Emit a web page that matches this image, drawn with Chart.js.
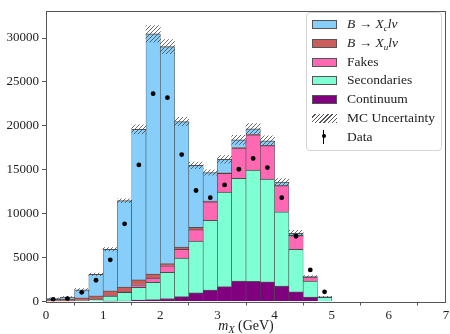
<!DOCTYPE html>
<html>
<head>
<meta charset="utf-8">
<script src="https://cdn.jsdelivr.net/npm/chart.js@4.4.1/dist/chart.umd.min.js"></script>
<style>
html, body { margin: 0; padding: 0; background: #fff; }
#wrap { position: relative; width: 450px; height: 334px; }
#xtitle { position: absolute; left: 196px; width: 100px; top: 318px; text-align: center;
  font: 14px 'Liberation Serif', serif; color: #222; line-height: 16px; }
#xtitle sub { font-size: 10px; vertical-align: -3px; line-height: 0; }
#legend { position: absolute; left: 306px; top: 12px; width: 134px; height: 137px;
  border: 1px solid #d4d4d4; border-radius: 4px; background: rgba(255,255,255,0.85);
  font: 13.5px 'Liberation Serif', serif; color: #222; }
#legend .row { position: absolute; left: 0; height: 18px; line-height: 18px; }
#legend .sw { position: absolute; left: 5px; top: 5px; width: 23px; height: 7px; border: 1px solid #555; }
#legend .txt { position: absolute; left: 40px; white-space: nowrap; }
#legend sub { font-size: 9px; vertical-align: -3px; line-height: 0; }
</style>
</head>
<body>
<div id="wrap">
  <canvas id="histChart" width="450" height="334"></canvas>
  <div id="xtitle"><i>m</i><sub><i>X</i></sub> (GeV)</div>
  <div id="legend"></div>
</div>
<script>
// bins of 0.25 GeV, centres
var binCenters = [0.125, 0.375, 0.625, 0.875, 1.125, 1.375, 1.625, 1.875, 2.125, 2.375,
                  2.625, 2.875, 3.125, 3.375, 3.625, 3.875, 4.125, 4.375, 4.625, 4.875];

var xcVals   = [100, 230, 900, 2450, 4730, 9830, 17140, 27350, 24700, 14290,
                7060, 3250, 1520, 870, 640, 520, 370, 200, 60, 30];
var xuVals   = [250, 250, 300, 370, 550, 560, 560, 450, 260, 260,
                260, 100, 80, 60, 50, 40, 30, 20, 10, 0];
var fakeVals = [0, 0, 20, 30, 50, 60, 300, 480, 740, 1000,
                1310, 2090, 2130, 3460, 4020, 3800, 2980, 1600, 450, 20];
var secVals  = [20, 30, 100, 250, 600, 1000, 1450, 1970, 2980, 4390,
                5890, 7950, 10750, 11700, 12650, 11690, 8470, 4840, 1820, 470];
var contVals = [0, 0, 0, 0, 10, 30, 150, 220, 340, 550,
                980, 1300, 1700, 2320, 2300, 2250, 1750, 1100, 500, 0];
var mcErr    = [50, 50, 140, 150, 190, 220, 530, 950, 800, 480,
                380, 300, 440, 520, 610, 560, 400, 350, 120, 80];
var dataVals = [250, 330, 1050, 2420, 4750, 8850, 15550, 23660, 23210, 16730,
                12640, 11820, 13270, 15060, 16290, 15250, 11820, 7430, 3600, 1100];

var xTicks = [0, 1, 2, 3, 4, 5, 6, 7];
var yTicks = [0, 5000, 10000, 15000, 20000, 25000, 30000];

var legendNames = [
  '<i>B</i> \u2192 <i>X<sub>c</sub>l\u03bd</i>',
  '<i>B</i> \u2192 <i>X<sub>u</sub>l\u03bd</i>',
  'Fakes',
  'Secondaries',
  'Continuum',
  'MC Uncertainty',
  'Data'
];

function pts(vals) {
  return vals.map(function(v, i) { return {x: binCenters[i], y: v}; });
}

function makeHatch() {
  var c = document.createElement('canvas');
  c.width = 4; c.height = 4;
  var g = c.getContext('2d');
  g.strokeStyle = 'rgba(70,70,70,0.8)';
  g.lineWidth = 1;
  g.beginPath();
  g.moveTo(0, 4); g.lineTo(4, 0);
  g.moveTo(-2, 2); g.lineTo(2, -2);
  g.moveTo(2, 6); g.lineTo(6, 2);
  g.stroke();
  return g.createPattern(c, 'repeat');
}

var hatch = makeHatch();
var totals = binCenters.map(function(_, i) {
  return xcVals[i] + xuVals[i] + fakeVals[i] + secVals[i] + contVals[i];
});
var uncBars = totals.map(function(t, i) {
  return {x: binCenters[i], y: [t - mcErr[i], t + mcErr[i]]};
});

var edge = 'rgba(50,50,50,0.85)';
function barSet(label, vals, color) {
  return {
    type: 'bar', label: label, data: pts(vals), stack: 'main',
    backgroundColor: color, borderColor: edge,
    borderWidth: { top: 1, bottom: 0, left: 0.6, right: 0.6 }, borderSkipped: false,
    barPercentage: 1, categoryPercentage: 1
  };
}

var framePlugin = {
  id: 'frame',
  afterDraw: function(chart) {
    var a = chart.chartArea, ctx = chart.ctx;
    ctx.save();
    ctx.strokeStyle = '#555';
    ctx.lineWidth = 1;
    ctx.strokeRect(Math.round(a.left) + 0.5, Math.round(a.top) + 0.5,
                   Math.round(a.right - a.left) - 1, Math.round(a.bottom - a.top));
    ctx.restore();
  }
};

var chart = new Chart(document.getElementById('histChart').getContext('2d'), {
  type: 'bar',
  data: {
    datasets: [
      {
        type: 'scatter', label: 'Data', data: pts(dataVals),
        backgroundColor: '#000', borderColor: '#000', pointRadius: 2.4, pointBorderWidth: 0
      },
      {
        type: 'bar', label: 'MC Uncertainty', data: uncBars, stack: 'unc', grouped: false,
        backgroundColor: hatch, borderWidth: 0, barPercentage: 1, categoryPercentage: 1
      },
      barSet('Continuum', contVals, '#800080'),
      barSet('Secondaries', secVals, '#7fffd4'),
      barSet('Fakes', fakeVals, '#ff69b4'),
      barSet('Xu', xuVals, '#cd5c5c'),
      barSet('Xc', xcVals, '#87cefa')
    ]
  },
  options: {
    responsive: false,
    animation: false,
    layout: { padding: { top: 5, right: 4, left: 0, bottom: 0 } },
    plugins: { legend: { display: false }, tooltip: { enabled: false } },
    scales: {
      x: {
        type: 'linear', min: 0, max: 7, offset: false, stacked: true,
        afterFit: function(s) { s.height = 32.5; s.paddingLeft = 0; s.paddingRight = 0; },
        afterBuildTicks: function(s) { s.ticks = xTicks.map(function(v) { return {value: v}; }); },
        grid: { display: true, drawOnChartArea: false, drawTicks: true, tickLength: 4, color: '#555' },
        border: { display: false },
        ticks: { font: { family: 'Liberation Serif', size: 13 }, color: '#222', padding: 2, maxRotation: 0 }
      },
      y: {
        min: 0, max: 33100, stacked: true,
        afterFit: function(s) { s.width = 46; },
        afterBuildTicks: function(s) { s.ticks = yTicks.map(function(v) { return {value: v}; }); },
        grid: { display: true, drawOnChartArea: false, drawTicks: true, tickLength: 4, color: '#555' },
        border: { display: false },
        ticks: { font: { family: 'Liberation Serif', size: 13 }, color: '#222', padding: 3,
                 callback: function(v) { return String(v); } }
      }
    }
  },
  plugins: [framePlugin]
});

// html legend (labels need italics/subscripts)
var legendFill = ['#87cefa', '#cd5c5c', '#ff69b4', '#7fffd4', '#800080'];
var box = document.getElementById('legend');
legendNames.forEach(function(name, i) {
  var row = document.createElement('div');
  row.className = 'row';
  row.style.top = (2 + i * 18.8) + 'px';
  row.style.width = '134px';
  var sw = document.createElement('div');
  if (i < 5) {
    sw.className = 'sw';
    sw.style.background = legendFill[i];
  } else if (i === 5) {
    sw.className = 'sw';
    sw.style.border = 'none';
    sw.style.height = '9px';
    sw.style.width = '25px';
    sw.style.background = 'repeating-linear-gradient(-45deg, #555 0 1px, #fff 1px 3px)';
  } else {
    sw.style.cssText = 'position:absolute;left:16px;top:2px;width:1px;height:14px;background:#000';
    var dot = document.createElement('div');
    dot.style.cssText = 'position:absolute;left:14.5px;top:6.5px;width:4px;height:4px;border-radius:50%;background:#000';
    row.appendChild(dot);
  }
  row.appendChild(sw);
  var t = document.createElement('span');
  t.className = 'txt';
  t.innerHTML = name;
  row.appendChild(t);
  box.appendChild(row);
});
</script>
</body>
</html>
